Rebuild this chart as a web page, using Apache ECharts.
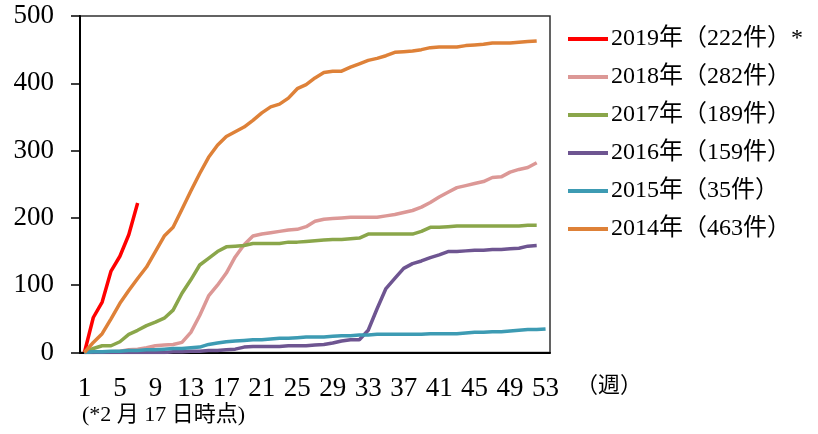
<!DOCTYPE html>
<html>
<head>
<meta charset="utf-8">
<script src="https://cdn.jsdelivr.net/npm/echarts@6/dist/echarts.min.js"></script>
<style>
html,body{margin:0;padding:0;background:#fff;}
#c{width:818px;height:434px;}
</style>
</head>
<body>
<div id="c"></div>
<script>
var weeks = [1,2,3,4,5,6,7,8,9,10,11,12,13,14,15,16,17,18,19,20,21,22,23,24,25,26,27,28,29,30,31,32,33,34,35,36,37,38,39,40,41,42,43,44,45,46,47,48,49,50,51,52,53];
var yTicks = [0,100,200,300,400,500];
var seriesNames = ['2019年（222件）*','2018年（282件）','2017年（189件）','2016年（159件）','2015年（35件）','2014年（463件）'];

var y2019 = [0,52,75,121,143,175,222];
var y2018 = [0,0,1,1,2,4,5,7,10,11,12,15,30,55,84,100,118,142,160,173,176,178,180,182,183,187,195,198,199,200,201,201,201,201,203,205,208,211,216,223,231,238,245,248,251,254,260,261,268,272,275,282];
var y2017 = [0,6,10,10,16,27,33,40,45,51,63,88,108,130,140,150,157,158,159,162,162,162,162,164,164,165,166,167,168,168,169,170,176,176,176,176,176,176,180,186,186,187,188,188,188,188,188,188,188,188,189,189];
var y2016 = [0,0,0,0,0,0,0,0,0,0,1,1,2,2,3,3,4,5,8,9,9,9,9,10,10,10,11,12,14,17,19,19,33,65,95,110,125,132,136,141,145,150,150,151,152,152,153,153,154,155,158,159];
var y2015 = [0,1,1,2,2,3,3,4,4,5,6,6,7,8,12,14,16,17,18,19,19,20,21,21,22,23,23,23,24,25,25,26,26,27,27,27,27,27,27,28,28,28,28,29,30,30,31,31,32,33,34,34,35];
var y2014 = [0,15,28,50,73,92,110,127,150,173,186,213,240,266,290,308,321,328,335,345,356,365,369,378,392,398,408,416,418,418,424,429,434,437,441,446,447,448,450,453,454,454,454,456,457,458,460,460,460,461,462,463];

var colors = ['#FF0000','#DC9896','#8AA64A','#6E5591','#3D9BB3','#DE8138'];
var values = [y2019,y2018,y2017,y2016,y2015,y2014];

var serifFont = '"Liberation Serif", "Noto Sans CJK JP", serif';

var chart = echarts.init(document.getElementById('c'), null, {renderer:'canvas'});
var series = seriesNames.map(function(n,i){
  return {
    name:n, type:'line', data:values[i], symbol:'none', smooth:false,
    lineStyle:{color:colors[i], width:3.5}, itemStyle:{color:colors[i]},
    animation:false
  };
});
chart.setOption({
  animation:false,
  color:colors,
  grid:{left:80,right:268,top:16,bottom:81.5,show:true,borderColor:'#303030',borderWidth:1.5,backgroundColor:'transparent'},
  legend:{
    orient:'vertical', left:563, top:22, itemWidth:40, itemHeight:4, itemGap:14,
    icon:'rect', data:seriesNames,
    textStyle:{fontFamily:serifFont, fontSize:24, color:'#000', padding:[0,0,0,-2]}
  },
  xAxis:{
    type:'category', data:weeks, boundaryGap:true,
    axisLine:{lineStyle:{color:'#000',width:2}},
    axisTick:{interval:3, length:8, lineStyle:{color:'#000',width:1.5}},
    axisLabel:{interval:3, color:'#000', fontFamily:serifFont, fontSize:27, margin:23}
  },
  yAxis:{
    type:'value', min:0, max:500, interval:100,
    axisLine:{show:true, lineStyle:{color:'#000',width:2}},
    axisTick:{show:true, length:9, lineStyle:{color:'#000',width:1.5}},
    splitLine:{show:false},
    axisLabel:{color:'#000', fontFamily:serifFont, fontSize:27, margin:26}
  },
  graphic:[
    {type:'text', left:576, top:375, style:{text:'（週）', fontFamily:serifFont, fontSize:22, fill:'#000'}},
    {type:'text', left:82, top:404, style:{text:'(*2 月 17 日時点)', fontFamily:serifFont, fontSize:22, fill:'#000'}}
  ],
  series:series
});
</script>
</body>
</html>
